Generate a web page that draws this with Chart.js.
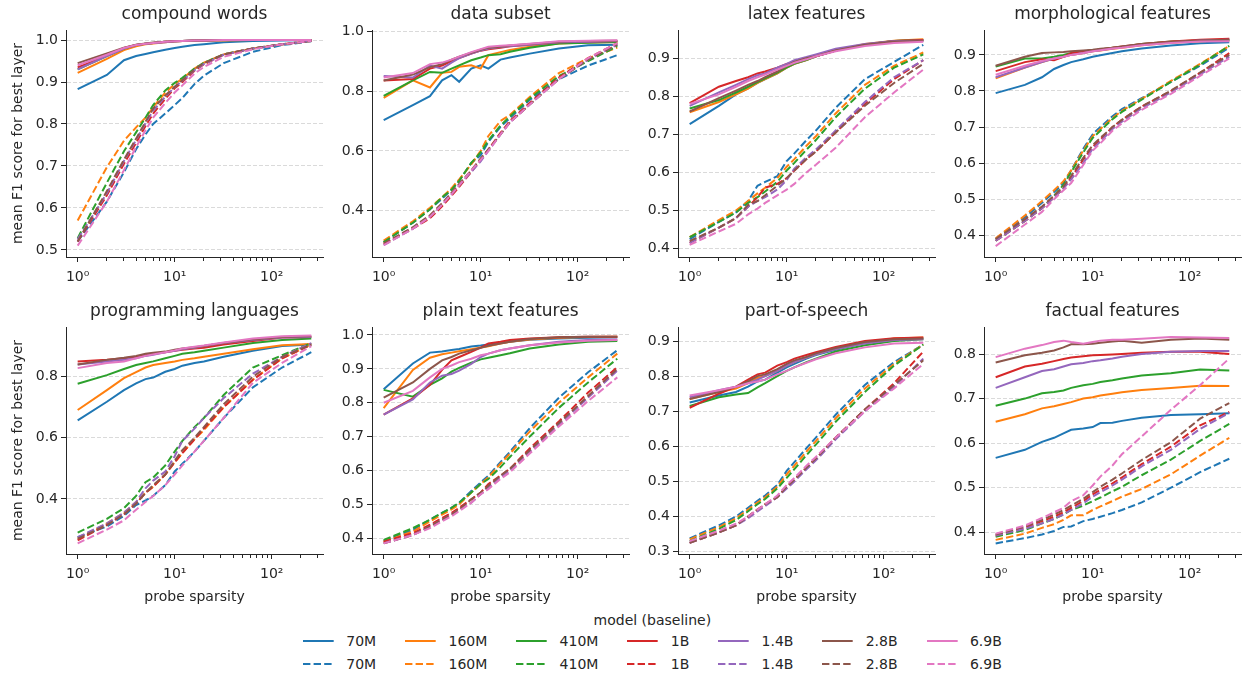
<!DOCTYPE html>
<html>
<head>
<meta charset="utf-8">
<script src="https://cdn.jsdelivr.net/npm/chart.js@4.4.1/dist/chart.umd.min.js"></script>
<style>
  html, body { margin: 0; padding: 0; background: #ffffff; }
  body { width: 1244px; height: 676px; overflow: hidden; position: relative; font-family: "DejaVu Sans", sans-serif; color: #262626; }
  .panel { position: absolute; }
  #legend { position: absolute; left: 303px; top: 610px; font-size: 14px; }
  #legendTitle { height: 20px; line-height: 20px; text-align: center; white-space: nowrap; }
  #legendCols { display: flex; gap: 29px; }
  .entry { height: 22.4px; display: flex; align-items: center; white-space: nowrap; }
  .entry svg { margin-right: 12.3px; display: block; }
</style>
</head>
<body>
<div id="legend">
  <div id="legendTitle">model (baseline)</div>
  <div id="legendCols"></div>
</div>
<script>
// ---------------- data ----------------
const sparsity = [1, 2, 3, 4, 5, 6, 8, 10, 12, 16, 20, 32, 64, 128, 256];
const models = ['70M', '160M', '410M', '1B', '1.4B', '2.8B', '6.9B'];
const modelColors = ['#1f77b4', '#ff7f0e', '#2ca02c', '#d62728', '#9467bd', '#8c564b', '#e377c2'];
const panelTitles = ['compound words', 'data subset', 'latex features', 'morphological features',
                     'programming languages', 'plain text features', 'part-of-speech', 'factual features'];
const xTickValues = [1, 2, 3, 4, 5, 6, 7, 8, 9, 10, 20, 30, 40, 50, 60, 70, 80, 90, 100, 200, 300];
const xTickText = { 1: '10\u2070', 10: '10\u00B9', 100: '10\u00B2' };
const yTickValues = [
  [0.5, 0.6, 0.7, 0.8, 0.9, 1.0],
  [0.4, 0.6, 0.8, 1.0],
  [0.4, 0.5, 0.6, 0.7, 0.8, 0.9],
  [0.4, 0.5, 0.6, 0.7, 0.8, 0.9],
  [0.4, 0.6, 0.8],
  [0.4, 0.5, 0.6, 0.7, 0.8, 0.9, 1.0],
  [0.3, 0.4, 0.5, 0.6, 0.7, 0.8, 0.9],
  [0.4, 0.5, 0.6, 0.7, 0.8]
];
const yRanges = [
  [0.483, 1.024], [0.2454, 1.004], [0.378, 0.974], [0.340, 0.969],
  [0.220, 0.9625], [0.3537, 1.0236], [0.2934, 0.940], [0.3513, 0.8606]
];
const xRange = [0.758, 338];

// solid = model, dashed = baseline; rows follow `models`, columns follow `sparsity`
const compoundModel = [
  [.883,.917,.952,.962,.967,.971,.977,.981,.984,.988,.990,.995,.998,.999,1.0],
  [.922,.955,.976,.985,.990,.992,.995,.997,.998,.998,.999,.999,1.0,1.0,1.0],
  [.930,.962,.980,.988,.991,.993,.996,.997,.998,.999,.999,1.0,1.0,1.0,1.0],
  [.935,.963,.981,.988,.991,.993,.996,.997,.998,.999,.999,1.0,1.0,1.0,1.0],
  [.930,.962,.980,.988,.991,.993,.995,.997,.998,.999,.999,1.0,1.0,1.0,1.0],
  [.945,.968,.982,.989,.992,.994,.996,.997,.998,.999,.999,1.0,1.0,1.0,1.0],
  [.940,.965,.981,.988,.991,.993,.996,.997,.998,.999,.999,1.0,1.0,1.0,1.0]
];
const compoundBaseline = [
  [.520,.615,.685,.740,.775,.800,.825,.845,.862,.895,.915,.945,.972,.988,.997],
  [.570,.697,.760,.792,.815,.840,.875,.895,.908,.932,.946,.966,.980,.990,.998],
  [.528,.660,.735,.780,.815,.845,.880,.898,.910,.932,.946,.966,.980,.990,.998],
  [.520,.630,.705,.755,.795,.825,.860,.885,.900,.927,.942,.965,.980,.990,.998],
  [.525,.635,.712,.762,.802,.832,.865,.888,.903,.928,.943,.965,.980,.990,.998],
  [.520,.640,.715,.765,.805,.837,.868,.889,.904,.930,.945,.966,.980,.990,.998],
  [.510,.615,.690,.745,.785,.815,.850,.875,.892,.920,.936,.960,.978,.990,.998]
];
const dataSubsetModel = [
  [.703,.753,.783,.836,.853,.831,.875,.886,.875,.905,.912,.925,.942,.953,.955],
  [.777,.836,.812,.861,.864,.881,.886,.875,.920,.930,.937,.948,.959,.962,.964],
  [.784,.836,.864,.861,.875,.886,.903,.912,.920,.923,.931,.945,.959,.961,.964],
  [.835,.840,.875,.885,.900,.910,.925,.935,.940,.945,.950,.955,.963,.965,.967],
  [.850,.845,.885,.875,.895,.910,.925,.935,.942,.947,.950,.955,.963,.965,.967],
  [.835,.855,.880,.890,.905,.915,.928,.938,.945,.948,.952,.957,.965,.967,.968],
  [.845,.860,.890,.895,.905,.915,.930,.940,.948,.951,.953,.958,.966,.968,.970]
];
const dataSubsetBaseline = [
  [.295,.360,.405,.440,.470,.500,.560,.585,.630,.680,.710,.770,.840,.885,.920],
  [.300,.365,.410,.445,.475,.505,.555,.600,.650,.700,.720,.780,.860,.910,.945],
  [.295,.360,.405,.445,.470,.500,.560,.595,.635,.685,.715,.775,.850,.900,.950],
  [.290,.340,.375,.415,.450,.480,.530,.570,.605,.660,.700,.760,.845,.910,.960],
  [.285,.340,.380,.420,.455,.485,.530,.565,.600,.655,.695,.755,.840,.905,.955],
  [.290,.345,.385,.425,.460,.490,.535,.575,.605,.655,.695,.755,.840,.905,.955],
  [.285,.340,.380,.420,.455,.485,.535,.570,.600,.655,.695,.755,.840,.910,.960]
];
const latexModel = [
  [.727,.775,.805,.821,.835,.845,.860,.875,.885,.895,.905,.920,.935,.945,.948],
  [.758,.785,.805,.820,.835,.845,.860,.875,.885,.895,.905,.920,.937,.946,.950],
  [.768,.790,.810,.825,.837,.847,.862,.876,.886,.896,.905,.920,.936,.945,.948],
  [.782,.825,.840,.850,.860,.865,.875,.885,.890,.900,.905,.920,.935,.945,.948],
  [.775,.810,.830,.845,.855,.860,.875,.885,.895,.903,.910,.925,.937,.945,.946],
  [.760,.795,.815,.830,.840,.850,.865,.880,.890,.900,.905,.920,.935,.944,.945],
  [.780,.805,.825,.840,.850,.857,.870,.880,.888,.897,.905,.918,.932,.940,.943]
];
const latexBaseline = [
  [.425,.470,.495,.525,.565,.575,.590,.630,.650,.685,.710,.770,.845,.890,.935],
  [.430,.475,.500,.525,.545,.560,.585,.615,.635,.670,.695,.755,.830,.880,.915],
  [.430,.470,.495,.520,.535,.550,.575,.605,.625,.660,.685,.745,.820,.875,.910],
  [.415,.455,.480,.510,.535,.560,.570,.585,.605,.635,.655,.705,.780,.845,.895],
  [.415,.455,.480,.510,.525,.535,.555,.580,.610,.640,.660,.710,.785,.850,.895],
  [.420,.455,.480,.515,.525,.540,.565,.585,.605,.635,.655,.705,.775,.835,.885],
  [.410,.445,.465,.490,.505,.520,.540,.555,.570,.600,.620,.665,.745,.810,.870]
];
const morphModel = [
  [.794,.817,.838,.861,.872,.880,.888,.895,.899,.905,.910,.918,.926,.932,.935],
  [.835,.865,.880,.890,.895,.900,.905,.910,.912,.917,.920,.927,.934,.938,.940],
  [.868,.890,.890,.895,.900,.905,.910,.912,.915,.920,.922,.930,.937,.940,.942],
  [.855,.880,.888,.885,.895,.905,.910,.912,.915,.920,.923,.930,.937,.942,.945],
  [.838,.865,.880,.890,.895,.900,.905,.910,.913,.918,.922,.928,.935,.940,.942],
  [.870,.895,.905,.907,.908,.910,.912,.914,.917,.920,.923,.930,.936,.940,.942],
  [.845,.870,.883,.890,.895,.900,.905,.910,.913,.918,.920,.927,.933,.937,.938]
];
const morphBaseline = [
  [.390,.450,.490,.520,.545,.580,.640,.680,.700,.730,.750,.780,.825,.870,.920],
  [.392,.455,.495,.525,.550,.580,.635,.675,.695,.725,.745,.778,.828,.875,.925],
  [.385,.440,.475,.510,.540,.575,.630,.670,.690,.722,.742,.776,.825,.873,.925],
  [.385,.440,.475,.505,.530,.560,.610,.645,.665,.700,.720,.757,.800,.850,.905],
  [.385,.440,.475,.505,.530,.555,.600,.640,.660,.695,.715,.752,.796,.846,.895],
  [.390,.445,.480,.510,.535,.565,.615,.650,.670,.700,.720,.757,.801,.851,.900],
  [.370,.430,.465,.500,.525,.545,.595,.635,.655,.690,.710,.748,.792,.842,.890]
];
const progModel = [
  [.657,.718,.756,.778,.792,.797,.816,.825,.836,.845,.850,.865,.885,.900,.905],
  [.691,.756,.795,.815,.830,.838,.845,.850,.855,.860,.865,.875,.890,.903,.907],
  [.777,.805,.825,.838,.845,.850,.860,.868,.875,.880,.885,.895,.910,.920,.925],
  [.850,.855,.860,.865,.870,.875,.880,.885,.888,.892,.895,.905,.917,.928,.930],
  [.840,.850,.855,.860,.868,.872,.880,.885,.890,.895,.900,.910,.920,.928,.930],
  [.840,.855,.862,.868,.875,.878,.882,.888,.892,.896,.900,.910,.922,.930,.932],
  [.828,.845,.850,.860,.868,.873,.880,.886,.892,.898,.902,.912,.925,.932,.935]
];
const progBaseline = [
  [.275,.310,.345,.380,.395,.410,.445,.490,.515,.555,.590,.665,.765,.830,.880],
  [.270,.320,.355,.390,.420,.440,.480,.520,.550,.595,.625,.700,.790,.860,.905],
  [.290,.335,.370,.410,.455,.470,.510,.555,.590,.635,.665,.740,.830,.870,.910],
  [.265,.315,.350,.385,.420,.440,.480,.520,.550,.595,.630,.700,.790,.860,.905],
  [.275,.320,.355,.390,.435,.460,.490,.540,.590,.630,.665,.730,.810,.865,.910],
  [.270,.315,.350,.385,.420,.445,.480,.525,.560,.600,.635,.710,.800,.865,.905],
  [.255,.300,.330,.365,.390,.410,.445,.480,.510,.555,.590,.665,.780,.845,.900]
];
const plainModel = [
  [.840,.916,.948,.951,.956,.959,.966,.969,.972,.976,.980,.986,.990,.992,.993],
  [.784,.897,.933,.943,.948,.952,.958,.963,.967,.975,.980,.987,.992,.994,.995],
  [.838,.818,.853,.872,.892,.903,.918,.928,.933,.940,.946,.960,.972,.980,.982],
  [.765,.813,.853,.897,.925,.935,.950,.963,.975,.980,.985,.990,.993,.995,.995],
  [.765,.810,.860,.880,.885,.895,.915,.935,.945,.955,.960,.970,.980,.985,.987],
  [.815,.860,.900,.925,.935,.945,.955,.962,.968,.975,.980,.988,.993,.995,.995],
  [.800,.835,.875,.900,.910,.920,.930,.940,.945,.955,.960,.970,.978,.983,.985]
];
const plainBaseline = [
  [.392,.425,.455,.475,.490,.505,.540,.565,.585,.625,.655,.725,.815,.890,.955],
  [.390,.420,.450,.470,.485,.500,.535,.560,.580,.620,.650,.715,.800,.875,.945],
  [.395,.430,.455,.475,.490,.505,.535,.560,.575,.610,.640,.700,.785,.860,.930],
  [.390,.415,.440,.460,.475,.490,.515,.535,.560,.585,.605,.665,.745,.830,.905],
  [.385,.410,.435,.455,.470,.485,.505,.530,.550,.580,.600,.655,.735,.815,.895],
  [.385,.410,.435,.455,.470,.485,.515,.535,.555,.585,.605,.660,.740,.820,.900],
  [.385,.410,.430,.450,.465,.480,.505,.530,.545,.575,.595,.650,.730,.805,.875]
];
const posModel = [
  [.725,.745,.755,.770,.785,.790,.810,.825,.835,.850,.860,.875,.895,.905,.907],
  [.735,.755,.765,.780,.795,.800,.815,.830,.840,.853,.862,.878,.895,.907,.910],
  [.715,.740,.748,.752,.768,.780,.800,.815,.825,.840,.850,.870,.888,.900,.905],
  [.710,.750,.770,.790,.805,.810,.830,.840,.850,.860,.868,.883,.900,.908,.910],
  [.740,.760,.770,.780,.790,.800,.815,.830,.840,.853,.862,.877,.893,.903,.905],
  [.735,.755,.770,.785,.800,.805,.820,.835,.845,.855,.865,.880,.897,.905,.907],
  [.745,.760,.770,.780,.785,.790,.805,.815,.825,.838,.848,.865,.882,.893,.895]
];
const posBaseline = [
  [.338,.375,.400,.425,.445,.460,.490,.530,.555,.595,.625,.690,.775,.840,.890],
  [.335,.370,.395,.420,.440,.455,.485,.520,.545,.585,.615,.680,.765,.835,.890],
  [.330,.365,.390,.415,.435,.450,.480,.510,.535,.575,.605,.670,.755,.830,.890],
  [.325,.355,.375,.400,.420,.435,.455,.485,.505,.540,.565,.625,.705,.780,.870],
  [.325,.355,.375,.395,.415,.430,.455,.480,.500,.535,.560,.620,.700,.770,.850],
  [.325,.355,.375,.400,.420,.435,.455,.485,.505,.540,.565,.625,.705,.775,.845],
  [.330,.360,.380,.400,.420,.435,.460,.490,.510,.545,.570,.625,.700,.765,.835]
];
const factModel = [
  [.567,.585,.603,.612,.622,.630,.633,.636,.645,.646,.650,.657,.663,.665,.667],
  [.648,.665,.678,.683,.688,.692,.700,.703,.707,.711,.714,.719,.724,.729,.728],
  [.684,.700,.712,.715,.718,.724,.730,.733,.737,.741,.745,.752,.757,.765,.763],
  [.748,.772,.778,.784,.789,.792,.795,.797,.798,.799,.800,.803,.805,.805,.800],
  [.724,.748,.762,.766,.772,.777,.780,.784,.786,.790,.794,.800,.805,.807,.807],
  [.781,.797,.803,.808,.815,.822,.822,.823,.825,.828,.830,.825,.832,.835,.832],
  [.793,.812,.820,.827,.830,.827,.823,.827,.830,.832,.832,.834,.838,.837,.836]
];
const factBaseline = [
  [.375,.387,.395,.403,.412,.413,.425,.430,.435,.443,.450,.467,.500,.535,.565],
  [.383,.397,.410,.418,.428,.438,.438,.450,.458,.470,.480,.497,.530,.572,.612],
  [.390,.405,.420,.430,.440,.450,.460,.470,.478,.492,.502,.528,.563,.605,.643],
  [.393,.410,.425,.435,.445,.455,.470,.485,.495,.510,.523,.553,.592,.640,.670],
  [.393,.408,.420,.430,.440,.450,.465,.480,.490,.505,.518,.548,.585,.632,.668],
  [.395,.413,.428,.440,.450,.460,.475,.490,.502,.518,.532,.562,.602,.655,.690],
  [.397,.415,.432,.445,.455,.470,.483,.505,.525,.550,.575,.615,.675,.730,.790]
];

const panelModel = [compoundModel, dataSubsetModel, latexModel, morphModel, progModel, plainModel, posModel, factModel];
const panelBaseline = [compoundBaseline, dataSubsetBaseline, latexBaseline, morphBaseline, progBaseline, plainBaseline, posBaseline, factBaseline];

// ---------------- layout / style ----------------
const FONT = '"DejaVu Sans", sans-serif';
const TEXT = '#262626';
const colLeft = [0, 306, 612, 918];
const rowTop = [0, 297];
const DASH = [7.4, 3.2];

function makePanel(i) {
  const col = i % 4, row = Math.floor(i / 4);
  const W = 330, H = row === 0 ? 287 : 313;
  const wrap = document.createElement('div');
  wrap.className = 'panel';
  wrap.style.left = colLeft[col] + 'px';
  wrap.style.top = rowTop[row] + 'px';
  const canvas = document.createElement('canvas');
  canvas.width = W; canvas.height = H;
  canvas.style.width = W + 'px'; canvas.style.height = H + 'px';
  wrap.appendChild(canvas);
  document.body.appendChild(wrap);

  const datasets = [];
  models.forEach((m, j) => {
    datasets.push({
      label: m, data: sparsity.map((k, n) => ({ x: k, y: panelModel[i][j][n] })),
      borderColor: modelColors[j], backgroundColor: modelColors[j], borderWidth: 2,
      pointRadius: 0, tension: 0, fill: false, order: -(2 * j)
    });
    datasets.push({
      label: m, data: sparsity.map((k, n) => ({ x: k, y: panelBaseline[i][j][n] })),
      borderColor: modelColors[j], backgroundColor: modelColors[j], borderWidth: 2, borderDash: DASH,
      pointRadius: 0, tension: 0, fill: false, order: -(2 * j + 1)
    });
  });

  new Chart(canvas, {
    type: 'line',
    data: { datasets },
    options: {
      responsive: false, animation: false, devicePixelRatio: 1,
      layout: { padding: { left: 0, right: 7, top: 0, bottom: 0 } },
      plugins: {
        legend: { display: false }, tooltip: { enabled: false },
        title: { display: true, fullSize: false, text: panelTitles[i], color: TEXT,
                 font: { family: FONT, size: 17, weight: 'normal' }, padding: { top: 4, bottom: 5.6 } }
      },
      scales: {
        x: {
          type: 'logarithmic', position: 'bottom', min: xRange[0], max: xRange[1],
          afterBuildTicks: s => { s.ticks = xTickValues.map(v => ({ value: v })); },
          afterFit: s => { s.height = row === 0 ? 30 : 56; },
          ticks: { autoSkip: false, maxRotation: 0, minRotation: 0, padding: 7, color: TEXT,
                   font: { family: FONT, size: 14 }, callback: v => xTickText[v] || '' },
          grid: { drawOnChartArea: false, drawTicks: true, tickLength: 5, tickColor: TEXT, tickWidth: 1,
                  tickBorderDash: ctx => (ctx.tick && !xTickText[ctx.tick.value]) ? [3, 20] : [] },
          border: { display: true, color: TEXT, width: 1 },
          title: { display: row === 1, text: 'probe sparsity', color: TEXT,
                   font: { family: FONT, size: 14 }, padding: { top: 0, bottom: 4.6 } }
        },
        y: {
          type: 'linear', position: 'left', min: yRanges[i][0], max: yRanges[i][1],
          afterBuildTicks: s => { s.ticks = yTickValues[i].map(v => ({ value: v })); },
          afterFit: s => { s.width = 66; },
          ticks: { padding: 3, color: TEXT, font: { family: FONT, size: 14 }, callback: v => Number(v).toFixed(1) },
          grid: { color: '#dadada', lineWidth: 1, drawTicks: true, tickLength: 5, tickColor: TEXT, tickWidth: 1 },
          border: { display: true, color: TEXT, width: 1, dash: [4, 2] },
          title: { display: col === 0, text: 'mean F1 score for best layer', color: TEXT,
                   font: { family: FONT, size: 14 }, padding: { top: 9.6, bottom: 0 } }
        }
      }
    }
  });
}

for (let i = 0; i < 8; i++) makePanel(i);

// ---------------- legend ----------------
const colsEl = document.getElementById('legendCols');
models.forEach((m, j) => {
  const c = document.createElement('div');
  [false, true].forEach(dashed => {
    const e = document.createElement('div');
    e.className = 'entry';
    const ns = 'http://www.w3.org/2000/svg';
    const svg = document.createElementNS(ns, 'svg');
    svg.setAttribute('width', '31'); svg.setAttribute('height', '6');
    const ln = document.createElementNS(ns, 'line');
    ln.setAttribute('x1', '0'); ln.setAttribute('x2', '30.7');
    ln.setAttribute('y1', '3'); ln.setAttribute('y2', '3');
    ln.setAttribute('stroke', modelColors[j]); ln.setAttribute('stroke-width', '2');
    if (dashed) ln.setAttribute('stroke-dasharray', DASH.join(' '));
    svg.appendChild(ln);
    const t = document.createElement('span');
    t.textContent = m;
    e.appendChild(svg); e.appendChild(t);
    c.appendChild(e);
  });
  colsEl.appendChild(c);
});
</script>
</body>
</html>
